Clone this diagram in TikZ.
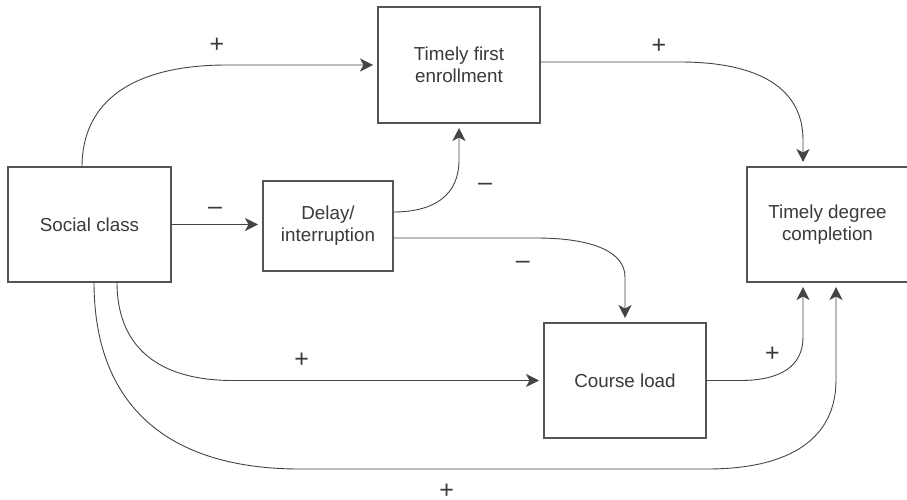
\documentclass[tikz,border=0pt]{standalone}
\usepackage{fontspec}
\setmainfont{Liberation Sans}
\usetikzlibrary{arrows.meta,calc}
\definecolor{inkline}{HTML}{444444}
\definecolor{inkbox}{HTML}{555555}
\definecolor{inktext}{HTML}{3A3A3A}
\begin{document}
\begin{tikzpicture}[x=1pt,y=-1pt,
  box/.style={draw=inkbox,line width=1.2pt,fill=white,inner sep=0pt,outer sep=0pt,
    align=center,text=inktext,font=\fontsize{18.8}{22}\selectfont},
  conn/.style={draw=inkline,line width=0.9pt,
    -{Stealth[length=13pt,width=13pt,inset=3.5pt]},shorten >=5pt},
  sign/.style={anchor=base,inner sep=0pt,text=inktext,font=\fontsize{25}{25}\selectfont}]
\useasboundingbox (0,0) rectangle (907,500);

% boxes
\node[box,minimum width=163pt,minimum height=115pt] (sc)  at (89.5,224.5) {Social class};
\node[box,minimum width=130pt,minimum height=90pt]  (dl)  at (328,226)    {Delay/\\interruption};
\node[box,minimum width=162pt,minimum height=116pt] (tfe) at (459,65)     {Timely first\\enrollment};
\node[box,minimum width=161pt,minimum height=115pt] (tdc) at (827.5,224.5){Timely degree\\completion};
\node[box,minimum width=162pt,minimum height=115pt] (cl)  at (625,380.5)  {Course load};

% connectors
\draw[conn] ($(sc.north west)+(74,0)$) .. controls +(0,-66) and +(-94,0) .. (227,65) -- (tfe.west);
\draw[conn] (sc.east) -- (sc.east -| dl.west);
\draw[conn] ($(dl.north east)+(0,31)$) .. controls +(43,0) and +(0,34) .. (459,160) -- (tfe.south);
\draw[conn] ($(dl.south east)+(0,-33)$) -- (536,238) .. controls +(57,0) and +(0,-25) .. (625,277) -- (cl.north);
\draw[conn] ($(tfe.east)+(0,-3)$) -- (680,62) .. controls +(80,0) and +(0,-51) .. (803,140) -- ($(tdc.north west)+(56,0)$);
\draw[conn] ($(sc.south west)+(109,0)$) .. controls +(0,65) and +(-75,0) .. (233,380.5) -- (cl.west);
\draw[conn] ($(sc.south west)+(86,0)$) .. controls +(0,122) and +(-134,0) .. (300,469) -- (707,469)
   .. controls +(84,0) and +(0,58) .. (836,380) -- ($(tdc.south west)+(89,0)$);
\draw[conn] (cl.east) -- (740,380.5) .. controls +(41,0) and +(0,29) .. (803,337) -- ($(tdc.south west)+(56,0)$);

% signs of the effects
\node[sign] (s1) at (217,52.6)   {+};
\node[sign] (s2) at (215,214.5)  {–};
\node[sign] (s3) at (485,190)    {–};
\node[sign] (s4) at (522.7,268.7){–};
\node[sign] (s5) at (659,53.6)   {+};
\node[sign] (s6) at (301.7,367.9){+};
\node[sign] (s7) at (772.5,361.1){+};
\node[sign] (s8) at (446.7,498.2){+};
\end{tikzpicture}
\end{document}
